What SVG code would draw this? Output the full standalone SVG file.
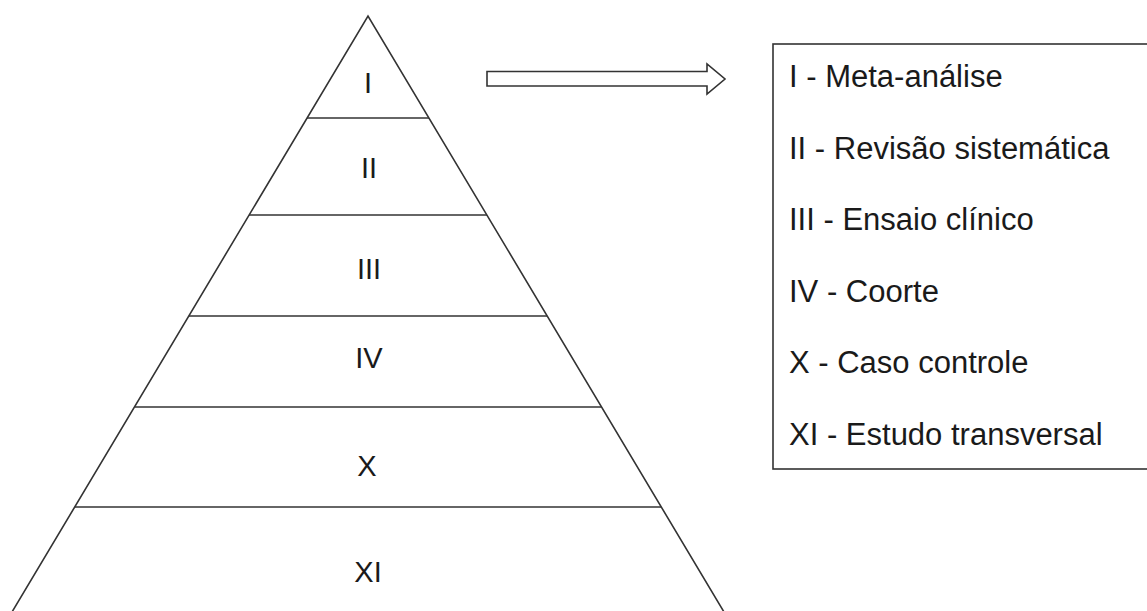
<svg xmlns="http://www.w3.org/2000/svg" width="1147" height="611" viewBox="0 0 1147 611">
<style>
.ln{stroke:#333;stroke-width:1.6;fill:none;stroke-linejoin:miter}
.lbl{font-family:"Liberation Sans",Arial,sans-serif;font-size:29px;fill:#1a1a1a;text-anchor:middle}
.itm{font-family:"Liberation Sans",Arial,sans-serif;font-size:31px;fill:#1a1a1a}
</style>
<rect width="1147" height="611" fill="#fff"/>
<g id="pyramid">
<polyline class="ln" points="12,612 368,16 724,612"/>
</g>
<g id="level-I"><text class="lbl" x="368" y="93">I</text></g>
<g id="level-II"><line class="ln" x1="307" y1="118" x2="429" y2="118"/><text class="lbl" x="369" y="178">II</text></g>
<g id="level-III"><line class="ln" x1="249" y1="215" x2="487" y2="215"/><text class="lbl" x="369" y="279">III</text></g>
<g id="level-IV"><line class="ln" x1="189" y1="316" x2="547" y2="316"/><text class="lbl" x="369" y="368">IV</text></g>
<g id="level-X"><line class="ln" x1="135" y1="407" x2="601" y2="407"/><text class="lbl" x="367" y="476">X</text></g>
<g id="level-XI"><line class="ln" x1="75" y1="507" x2="661" y2="507"/><text class="lbl" x="368" y="582">XI</text></g>
<g id="connectors">
<polygon class="ln" fill="#fff" points="487,71.5 707,71.5 707,64 725,79 707,94 707,86 487,86"/>
</g>
<g id="legend">
<rect class="ln" x="773" y="44" width="390" height="425"/>
<text class="itm" x="789" y="87">I - Meta-análise</text>
<text class="itm" x="789" y="158.6">II - Revisão sistemática</text>
<text class="itm" x="789" y="230.2">III - Ensaio clínico</text>
<text class="itm" x="789" y="301.8">IV - Coorte</text>
<text class="itm" x="789" y="373.4">X - Caso controle</text>
<text class="itm" x="789" y="445">XI - Estudo transversal</text>
</g>
</svg>
